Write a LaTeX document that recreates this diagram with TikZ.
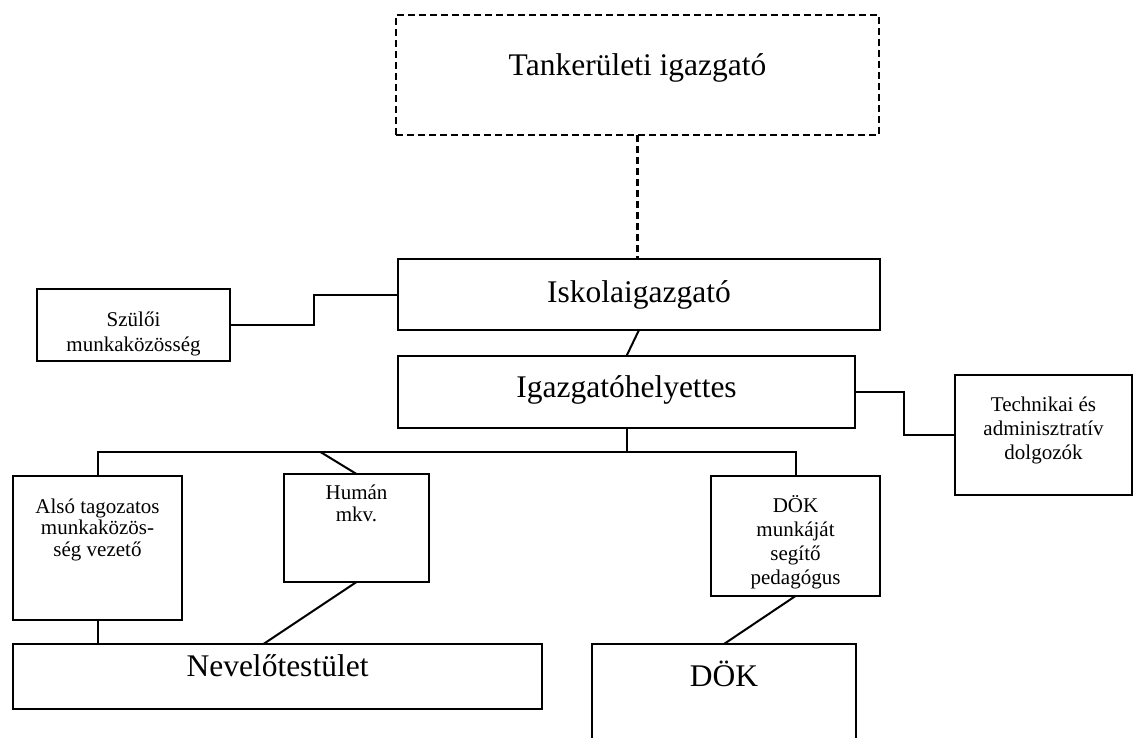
\documentclass[tikz,border=0pt]{standalone}
\usepackage{fontspec}
\setmainfont{Liberation Serif}
\usetikzlibrary{calc}
\tikzset{
  box/.style={draw, line width=2pt, rectangle, inner sep=0pt, outer sep=0pt, anchor=north west},
  dbox/.style={box, dash pattern=on 7pt off 4pt, line width=2.4pt},
  big/.style={font=\fontsize{31.5}{36}\selectfont, inner sep=0pt, anchor=base},
  small/.style={font=\fontsize{21}{24}\selectfont, inner sep=0pt, anchor=base, align=center},
  conn/.style={line width=2pt},
  dconn/.style={line width=2.4pt, dash pattern=on 7pt off 4pt},
}
\begin{document}
\begin{tikzpicture}[x=1pt,y=-1pt]
\clip (0,0) rectangle (1134,738);
\fill[white] (0,0) rectangle (1134,738);
% boxes
\node[dbox, minimum width=483pt, minimum height=120pt] (tank) at (396,15) {};
\node[box, minimum width=482pt, minimum height=71pt] (isk) at (398,259) {};
\node[box, minimum width=457pt, minimum height=72pt] (hely) at (398,356) {};
\node[box, minimum width=193pt, minimum height=72pt] (szul) at (37,289) {};
\node[box, minimum width=177pt, minimum height=120pt] (tech) at (955,375) {};
\node[box, minimum width=169pt, minimum height=144pt] (also) at (13,476) {};
\node[box, minimum width=145pt, minimum height=108pt] (hum) at (284,474) {};
\node[box, minimum width=169pt, minimum height=120pt] (dokseg) at (711,476) {};
\node[box, minimum width=529pt, minimum height=65pt] (nev) at (13,644) {};
\node[box, minimum width=264pt, minimum height=130pt] (dok) at (592,644) {};
% texts
\node[big] (tankT) at ($(tank.north)+(0,61)$) {Tankerületi igazgató};
\node[big] (iskT) at ($(isk.north)+(0,43)$) {Iskolaigazgató};
\node[big] (helyT) at ($(hely.north)+(0,41)$) {Igazgatóhelyettes};
\node[big] (nevT) at ($(nev.north)+(0,32)$) {Nevelőtestület};
\node[big] (dokT) at ($(dok.north)+(0,42)$) {DÖK};
\node[small, font=\fontsize{21}{25}\selectfont] (szulT) at ($(szul.north)+(0,62)$) {Szülői\\munkaközösség};
\node[small, font=\fontsize{21}{24}\selectfont] (techT) at ($(tech.north)+(0,84)$) {Technikai és\\adminisztratív\\dolgozók};
\node[small, font=\fontsize{21}{21.5}\selectfont] (alsoT) at ($(also.north)+(0,80)$) {Alsó tagozatos\\munkaközös-\\ség vezető};
\node[small, font=\fontsize{21}{22}\selectfont] (humT) at ($(hum.north)+(0,47)$) {Humán\\mkv.};
\node[small, font=\fontsize{21}{24}\selectfont] (doksegT) at ($(dokseg.north)+(0,108)$) {DÖK\\munkáját\\segítő\\pedagógus};
% connectors
\draw[dconn] (tank.south) -- (tank.south |- isk.north);
\draw[conn] (isk.south) -- (hely.north);
\draw[conn] (szul.east) -- ++(84,0) |- (isk.west);
\draw[conn] (hely.east) -- ++(49,0) |- (tech.west);
\draw[conn] (hely.south) -- ++(0,24) coordinate (bus);
\draw[conn] (also.north) |- (bus);
\draw[conn] (dokseg.north) |- (bus);
\draw[conn] (hum.north) -- ++(-36,-22);
\draw[conn] (also.south) -- (also.south |- nev.north);
\draw[conn] (hum.south) -- ($(nev.north)+(-14,0)$);
\draw[conn] (dokseg.south) -- (dok.north);
\end{tikzpicture}
\end{document}
